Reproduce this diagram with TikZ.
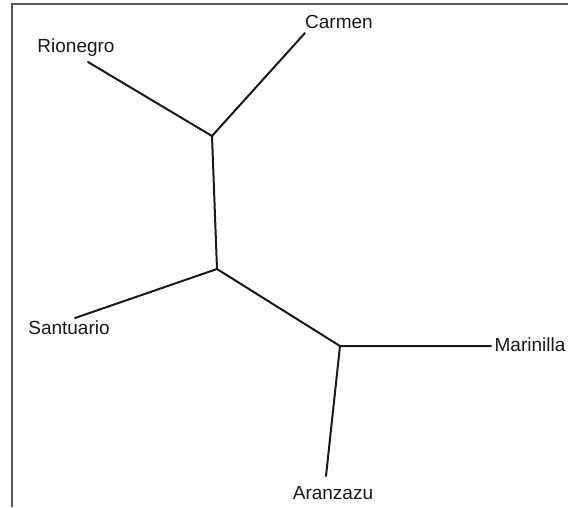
\documentclass[tikz,border=0pt]{standalone}
\usepackage{fontspec}
\setmainfont{Liberation Sans}
\begin{document}
\begin{tikzpicture}[x=1pt,y=-1pt,
  edge/.style={line width=2pt, line cap=round, color=black!90},
  frame/.style={line width=1.8pt, color=black!65},
  lab/.style={inner sep=0pt, font=\fontsize{19}{21}\selectfont, text=black!90}]
\useasboundingbox (0,0) rectangle (568,507);
\draw[frame] (12,507) -- (12,4) -- (568,4);
% labels
\node[lab] (rio) at (76,48) {Rionegro};
\node[lab] (car) at (339,22) {Carmen};
\node[lab] (san) at (69,328) {Santuario};
\node[lab] (mar) at (530,345) {Marinilla};
\node[lab] (ara) at (333,493) {Aranzazu};
% tree points
\coordinate (rioE) at (88,62);
\coordinate (carE) at (305,33);
\coordinate (sanE) at (75,318);
\coordinate (marE) at (491,346);
\coordinate (araE) at (326,476);
\coordinate (A) at (212,136);
\coordinate (B) at (217,269);
\coordinate (C) at (340,346);
\draw[edge] (rioE) -- (A) -- (carE);
\draw[edge] (A) -- (B);
\draw[edge] (sanE) -- (B) -- (C);
\draw[edge] (marE) -- (C) -- (araE);
\end{tikzpicture}
\end{document}
